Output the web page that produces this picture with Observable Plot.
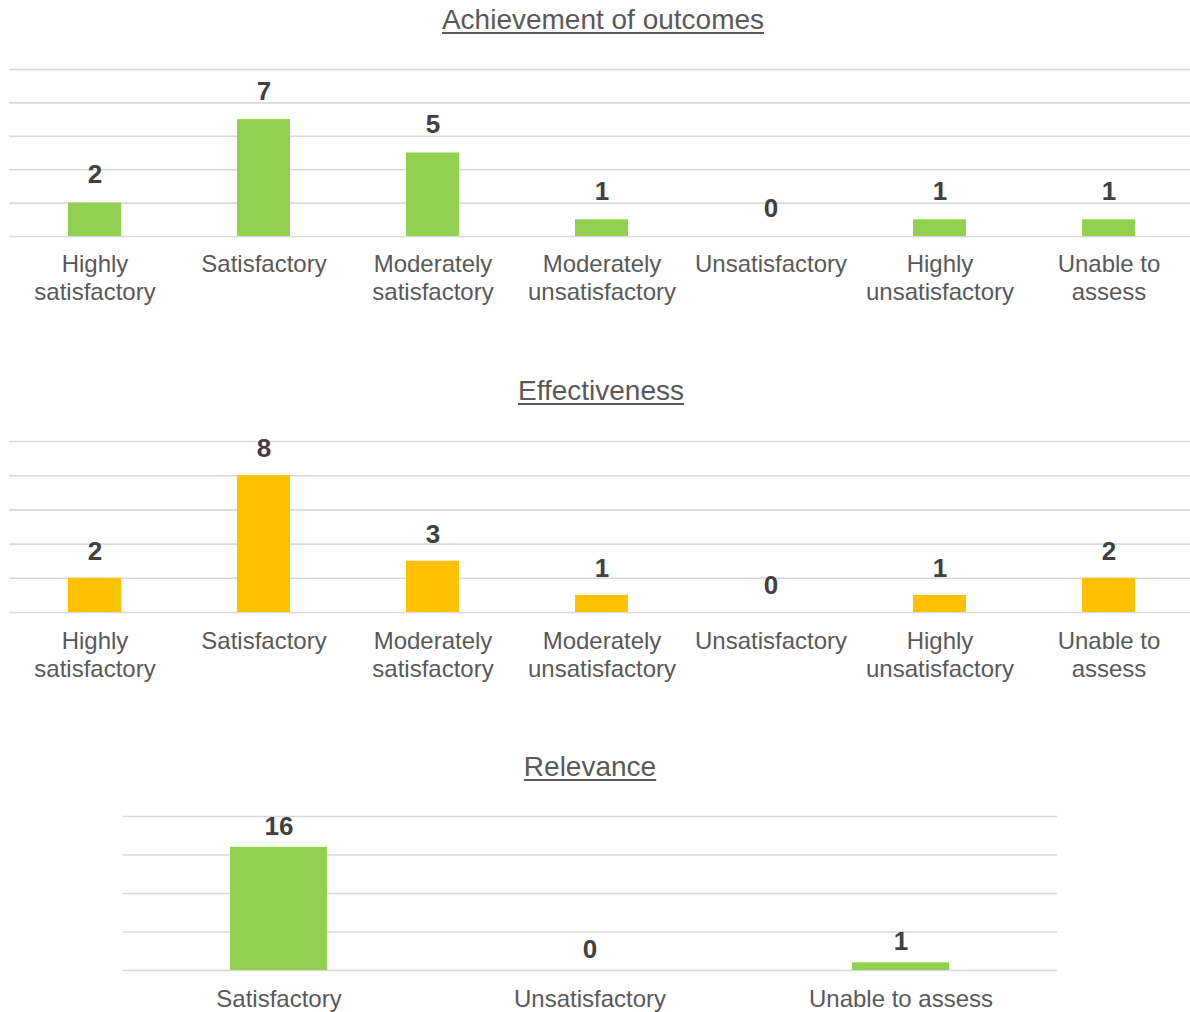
<!DOCTYPE html>
<html>
<head>
<meta charset="utf-8">
<script src="https://cdn.jsdelivr.net/npm/d3@7"></script>
<script src="https://cdn.jsdelivr.net/npm/@observablehq/plot@0.6"></script>
<style>
  html, body { margin: 0; padding: 0; background: #ffffff; overflow: hidden; }
  body { width: 1190px; height: 1012px; position: relative; font-family: "Liberation Sans", Arial, sans-serif; }
  .title { position: absolute; width: 600px; text-align: center; font-size: 28px; line-height: 32px; color: #595959; text-decoration: underline; text-decoration-thickness: 2px; text-underline-offset: 3px; }
  .chart { position: absolute; left: 0; }
</style>
</head>
<body>
<div class="title" id="t1" style="left:303px; top:4px;">Achievement of outcomes</div>
<div class="chart" id="c1" style="top:40px;"></div>
<div class="title" id="t2" style="left:301px; top:375px;">Effectiveness</div>
<div class="chart" id="c2" style="top:420px;"></div>
<div class="title" id="t3" style="left:290px; top:751px;">Relevance</div>
<div class="chart" id="c3" style="top:795px;"></div>
<script>
const ratingCategories = ["Highly satisfactory", "Satisfactory", "Moderately satisfactory", "Moderately unsatisfactory", "Unsatisfactory", "Highly unsatisfactory", "Unable to assess"];
const ratingTickLabels = ["Highly\nsatisfactory", "Satisfactory", "Moderately\nsatisfactory", "Moderately\nunsatisfactory", "Unsatisfactory", "Highly\nunsatisfactory", "Unable to\nassess"];
const outcomeValues = [2, 7, 5, 1, 0, 1, 1];
const effectivenessValues = [2, 8, 3, 1, 0, 1, 2];
const relevanceCategories = ["Satisfactory", "Unsatisfactory", "Unable to assess"];
const relevanceTickLabels = ["Satisfactory", "Unsatisfactory", "Unable to assess"];
const relevanceValues = [16, 0, 1];
const outcomeTicks = [0, 2, 4, 6, 8, 10];
const effectivenessTicks = [0, 2, 4, 6, 8, 10];
const relevanceTicks = [0, 5, 10, 15, 20];

const GREEN = "#92D050", YELLOW = "#FFC000";

function chart(o) {
  const data = o.cats.map((c, i) => ({cat: c, value: o.vals[i]}));
  return Plot.plot({
    width: 1190,
    height: o.height,
    marginTop: o.marginTop,
    marginBottom: o.marginBottom,
    marginLeft: o.marginLeft,
    marginRight: o.marginRight,
    style: {fontFamily: '"Liberation Sans", Arial, sans-serif', color: "#595959", background: "transparent"},
    x: {domain: o.cats, range: o.xRange, paddingInner: 0.687, paddingOuter: 0.3435, axis: null, label: null},
    y: {domain: [0, o.ticks[o.ticks.length - 1]], axis: null, label: null},
    marks: [
      Plot.gridY(o.ticks, {stroke: "#d9d9d9", strokeOpacity: 1, strokeWidth: 1.6}),
      Plot.barY(data, {x: "cat", y: "value", fill: o.color}),
      Plot.text(data, {x: "cat", y: "value", text: d => String(d.value), dy: o.labelDy, fontSize: 26, fontWeight: "bold", fill: "#404040"}),
      Plot.axisX({tickSize: 0, tickPadding: o.tickPad, fontSize: 24, lineHeight: 1.167, label: null, tickFormat: d => o.labels[o.cats.indexOf(d)]})
    ]
  });
}

document.getElementById("c1").append(chart({
  cats: ratingCategories, labels: ratingTickLabels, vals: outcomeValues, ticks: outcomeTicks, color: GREEN,
  height: 280, marginTop: 29, marginBottom: 84, marginLeft: 9, marginRight: 0, xRange: [8, 1194], labelDy: -28, tickPad: 16
}));
document.getElementById("c2").append(chart({
  cats: ratingCategories, labels: ratingTickLabels, vals: effectivenessValues, ticks: effectivenessTicks, color: YELLOW,
  height: 280, marginTop: 21, marginBottom: 88, marginLeft: 9, marginRight: 0, xRange: [10, 1193], labelDy: -27, tickPad: 17
}));
document.getElementById("c3").append(chart({
  cats: relevanceCategories, labels: relevanceTickLabels, vals: relevanceValues, ticks: relevanceTicks, color: GREEN,
  height: 217, marginTop: 21, marginBottom: 42, marginLeft: 123, marginRight: 133, xRange: [123, 1057], labelDy: -21, tickPad: 17
}));
</script>
</body>
</html>
